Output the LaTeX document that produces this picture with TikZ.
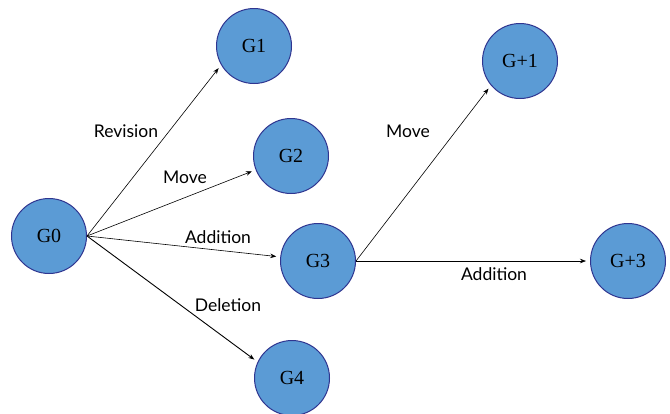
\documentclass[tikz,border=0pt]{standalone}
\usepackage{fontspec}
\setmainfont{Lato}
\newfontfamily\nodefont{Liberation Serif}
\usetikzlibrary{arrows.meta}
\definecolor{nodefill}{HTML}{5B9BD5}
\definecolor{nodeline}{HTML}{2F3590}
\begin{document}
\begin{tikzpicture}[x=1pt,y=-1pt,
  gnode/.style={circle,draw=nodeline,fill=nodefill,line width=1pt,minimum size=75pt,inner sep=0pt,font=\nodefont\fontsize{20}{22}\selectfont},
  conn/.style={-{Stealth[length=6pt,width=4.5pt]},line width=0.6pt,shorten >=4pt},
  lbl/.style={font=\fontsize{17.5}{19}\selectfont,inner sep=0pt}]
\useasboundingbox (0,0) rectangle (670,413);
\node[gnode] (g0) at (49,236) {G0};
\node[gnode] (g1) at (254,46) {G1};
\node[gnode] (g2) at (291,156) {G2};
\node[gnode] (g3) at (318,261) {G3};
\node[gnode] (g4) at (292,378) {G4};
\node[gnode] (gp1) at (520,61) {G+1};
\node[gnode] (gp3) at (628,261) {G+3};
\draw[conn] (g0.east) -- (g1.210);
\draw[conn] (g0.east) -- (g2);
\draw[conn] (g0.east) -- (g3);
\draw[conn,line width=0.9pt] (g0.east) -- (g4.155);
\draw[conn] (g3.east) -- (gp1.220);
\draw[conn] (g3.east) -- (gp3);
\node[lbl] (l1) at (126,131) {Revision};
\node[lbl] (l2) at (185,177) {Move};
\node[lbl] (l3) at (218,237) {Addition};
\node[lbl] (l4) at (228,305) {Deletion};
\node[lbl] (l5) at (408,131) {Move};
\node[lbl] (l6) at (494,274) {Addition};
\end{tikzpicture}
\end{document}
